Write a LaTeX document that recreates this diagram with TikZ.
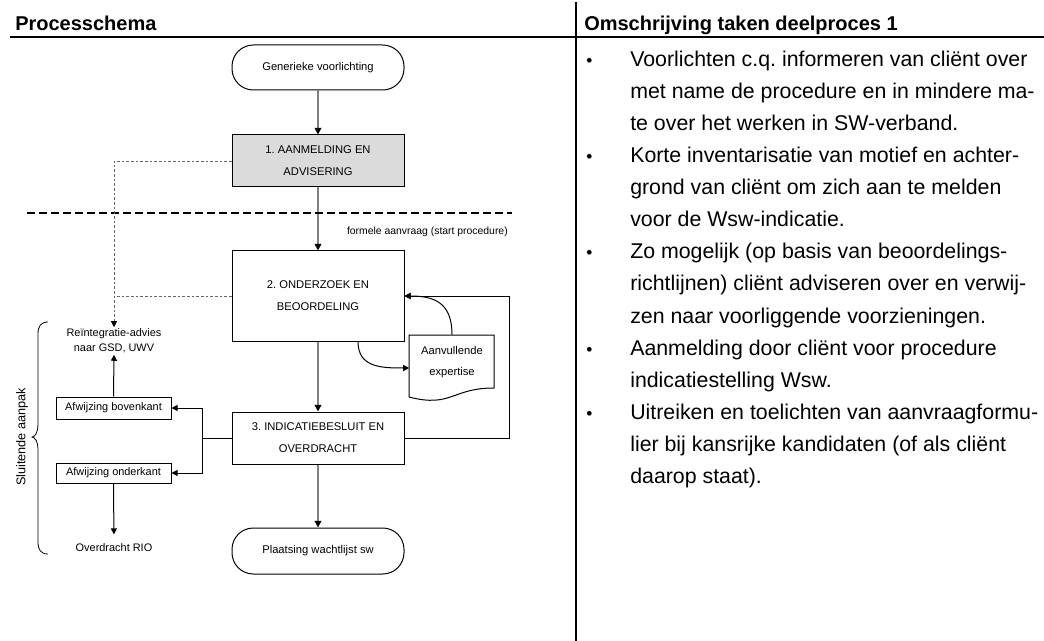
\documentclass[tikz,border=0pt]{standalone}
\usepackage{fontspec}
\setmainfont{Liberation Sans}
\usetikzlibrary{arrows.meta,calc}
\AtBeginDocument{\frenchspacing}
\begin{document}
\begin{tikzpicture}[x=0.75pt,y=-0.75pt,
  procbox/.style={draw=black, line width=0.75pt, minimum width=129pt, align=center,
    inner sep=0pt, font=\fontsize{8.4}{16.5}\selectfont},
  terminal/.style={procbox, rounded corners=16pt},
  smallbox/.style={draw=black, line width=0.75pt, minimum width=86.25pt, inner sep=0pt,
    font=\fontsize{8.2}{10}\selectfont},
  plain/.style={align=center, inner sep=1pt, font=\fontsize{8.2}{11.25}\selectfont},
  mainflow/.style={draw=black!50, line width=1.4pt, -{Triangle[length=5pt,width=5pt,color=black]}},
  link/.style={draw=black, line width=0.75pt},
  flow/.style={link, -{Triangle[length=4.5pt,width=4.5pt]}},
  advice/.style={draw=black!60, line width=0.7pt, dash pattern=on 2pt off 1.5pt},
  head/.style={anchor=base west, inner sep=0pt, font=\fontsize{15}{18}\selectfont\bfseries},
  body/.style={anchor=base west, inner sep=0pt, font=\fontsize{16}{19}\selectfont},
  dot/.style={anchor=base west, inner sep=0pt, font=\fontsize{13}{19}\selectfont}
]
\useasboundingbox (0,0) rectangle (1044,641);

% column headers and rules
\node[head] (h1) at (15,31) {Processchema};
\node[head] (h2) at (584,31) {Omschrijving taken deelproces 1};
\draw[line width=1.3pt] (10,37) -- (1044,37);
\draw[line width=1.5pt] (576,2) -- (576,641);

% main flow
\node[terminal, minimum height=33.75pt] (gen) at (318,67.5) {Generieke voorlichting};
\node[procbox, minimum height=39pt, fill=black!14] (b1) at (318,161) {1. AANMELDING EN\\ADVISERING};
\node[procbox, minimum height=67.5pt] (b2) at (318,296) {2. ONDERZOEK EN\\BEOORDELING};
\node[procbox, minimum height=39pt] (b3) at (318,438) {3. INDICATIEBESLUIT EN\\OVERDRACHT};
\node[terminal, minimum height=34.5pt] (wl) at (318,551) {Plaatsing wachtlijst sw};

\draw[mainflow] (gen) -- (b1);
\draw[mainflow] (b1) -- (b2);
\draw[mainflow] (b2) -- (b3);
\draw[mainflow] (b3) -- (wl);

% boundary of the formal request
\draw[line width=1.5pt, dash pattern=on 6pt off 3pt] (27,213) -- (512,213);
\node[anchor=east, inner sep=0pt, font=\fontsize{7.8}{9}\selectfont] (req) at (508,232)
  {formele aanvraag (start procedure)};

% supplementary expertise (document shape)
\node[align=center, inner sep=0pt, minimum width=63.75pt, minimum height=40.5pt,
  font=\fontsize{8.4}{15.75}\selectfont] (doc) at (452,362) {Aanvullende\\expertise};
\draw[link] (409,335) -- (494,335) -- (494,388)
  .. controls (451.5,388) and (451.5,408) .. (409,397) -- cycle;
\draw[flow] ($(b2.south)+(40,0)$) .. controls +(0,26) and +(-28,0) .. ([yshift=-4.5pt]doc.west);
\draw[flow] (doc.north) .. controls +(0,-32) and +(30,0) .. (b2.east);

% loop back from the decision
\coordinate (loop) at (509,438);
\draw[flow] (b3.east) -- (loop) |- (b2.east);

% closing approach
\node[plain] (reint) at (114,341) {Reïntegratie-advies\\naar GSD, UWV};
\node[smallbox, minimum height=16.5pt] (afwb) at (113.5,408) {Afwijzing bovenkant};
\node[smallbox, minimum height=15pt] (afwo) at (113.5,473) {Afwijzing onderkant};
\node[plain] (rio) at (114,548) {Overdracht RIO};

\coordinate (split) at (202,438);
\draw[link] (b3.west) -- (split);
\draw[flow] (split) |- (afwb.east);
\draw[flow] (split) |- (afwo.east);
\draw[flow] (afwb.north) -- (reint.south);
\draw[flow, shorten >=6pt] (afwo.south) -- (rio.north);

\draw[advice, -{Triangle[length=4.5pt,width=4.5pt,color=black]}] (b1.west) -| (reint.north);
\draw[advice] (b2.west) -- (b2.west -| reint.north);

% brace with its label
\draw[line width=0.6pt] (48,322) .. controls (41,322) and (38,326) .. (38,334) -- (38,425)
  .. controls (38,432) and (35,437) .. (32,437)
  .. controls (35,437) and (38,442) .. (38,449) -- (38,542)
  .. controls (38,550) and (41,554) .. (48,554);
\node[rotate=90, inner sep=0pt, font=\fontsize{9.5}{11}\selectfont] (close) at (22,437) {Sluitende aanpak};

% task description
\node[dot] (d1) at (586,67) {•};
\node[body] (t1) at (630,67) {Voorlichten c.q. informeren van cliënt over};
\node[body] (t2) at (630,99) {met name de procedure en in mindere ma-};
\node[body] (t3) at (630,131) {te over het werken in SW-verband.};
\node[dot] (d2) at (586,163) {•};
\node[body] (t4) at (630,163) {Korte inventarisatie van motief en achter-};
\node[body] (t5) at (630,195) {grond van cliënt om zich aan te melden};
\node[body] (t6) at (630,227) {voor de Wsw-indicatie.};
\node[dot] (d3) at (586,259) {•};
\node[body] (t7) at (630,259) {Zo mogelijk (op basis van beoordelings-};
\node[body] (t8) at (630,291) {richtlijnen) cliënt adviseren over en verwij-};
\node[body] (t9) at (630,323) {zen naar voorliggende voorzieningen.};
\node[dot] (d4) at (586,355) {•};
\node[body] (t10) at (630,355) {Aanmelding door cliënt voor procedure};
\node[body] (t11) at (630,387) {indicatiestelling Wsw.};
\node[dot] (d5) at (586,419) {•};
\node[body] (t12) at (630,419) {Uitreiken en toelichten van aanvraagformu-};
\node[body] (t13) at (630,451) {lier bij kansrijke kandidaten (of als cliënt};
\node[body] (t14) at (630,483) {daarop staat).};
\end{tikzpicture}
\end{document}
